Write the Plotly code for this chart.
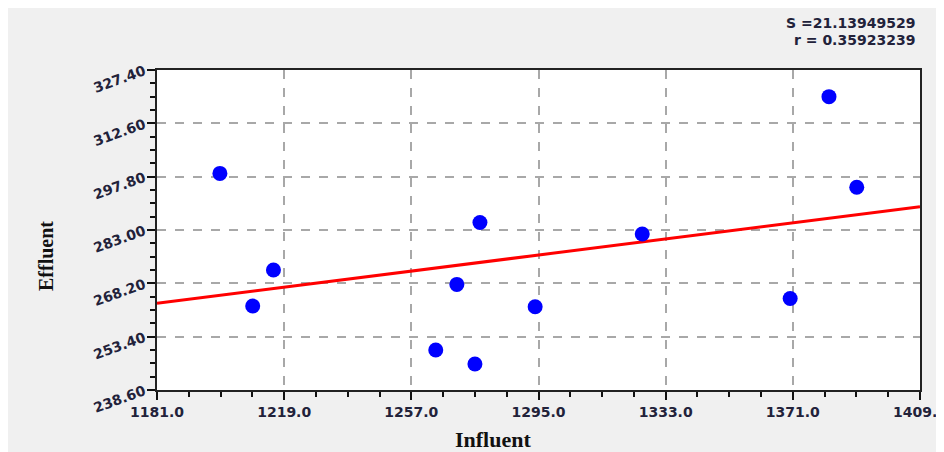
import plotly.graph_objects as go

# Data
influent = [1199.8, 1209.6, 1215.8, 1264.3, 1270.6, 1276.0, 1277.5, 1294.0, 1326.0, 1370.2, 1381.8, 1390.1]
effluent = [298.7, 261.9, 271.9, 249.7, 267.9, 245.8, 285.1, 261.7, 281.9, 264.0, 320.0, 294.85]

fit_x = [1181.0, 1409.0]
fit_y = [262.66, 289.46]

x_ticks = [1181.0, 1219.0, 1257.0, 1295.0, 1333.0, 1371.0, 1409.0]
x_ticktext = ["1181.0", "1219.0", "1257.0", "1295.0", "1333.0", "1371.0", "1409.0"]
y_ticks = [238.6, 253.4, 268.2, 283.0, 297.8, 312.6, 327.4]
y_ticktext = ["238.60", "253.40", "268.20", "283.00", "297.80", "312.60", "327.40"]

stat_lines = ["S =21.13949529", "r = 0.35923239"]

# page is 944x452; the html body adds an 8px margin at top/left
OFF = 8
W, H = 944 - OFF, 452 - OFF
L, R, T, B = 157 - OFF, 24, 70 - OFF, 62
pw, ph = W - L - R, H - T - B

def px(xpage):
    return (xpage - OFF - L) / pw

def py(ypage):
    return (H - B - (ypage - OFF)) / ph

fig = go.Figure()
fig.add_trace(go.Scatter(x=fit_x, y=fit_y, mode="lines",
                         line=dict(color="#ff0000", width=3), hoverinfo="skip",
                         showlegend=False))
fig.add_trace(go.Scatter(x=influent, y=effluent, mode="markers",
                         marker=dict(color="#0000ff", size=15, line=dict(width=0)),
                         showlegend=False))

tickfont = dict(family="DejaVu Sans", size=14, color="#22223a", weight="bold")

fig.update_xaxes(range=[1181, 1409], tickmode="array", tickvals=x_ticks, ticktext=x_ticktext,
                 showgrid=True, gridcolor="#a8a8a8", griddash="dash", gridwidth=1.5,
                 showline=True, linecolor="#222", linewidth=2, mirror=True,
                 ticks="outside", ticklen=8, tickwidth=2, tickcolor="#111",
                 tickfont=tickfont, zeroline=False, ticklabeloverflow="allow", automargin=False,
                 minor=dict(tickmode="linear", tick0=1181, dtick=9.5, ticks="outside",
                            ticklen=5, tickwidth=2, tickcolor="#111", showgrid=False))
fig.update_yaxes(range=[238.6, 327.4], tickmode="array", tickvals=y_ticks, ticktext=y_ticktext,
                 showgrid=True, gridcolor="#a8a8a8", griddash="dash", gridwidth=1.5,
                 showline=True, linecolor="#222", linewidth=2, mirror=True,
                 ticks="outside", ticklen=8, tickwidth=2, tickcolor="#111",
                 tickfont=tickfont, tickangle=-20, zeroline=False, ticklabeloverflow="allow",
                 automargin=False,
                 minor=dict(tickmode="linear", tick0=238.6, dtick=3.7, ticks="outside",
                            ticklen=5, tickwidth=2, tickcolor="#111", showgrid=False))

statfont = dict(family="DejaVu Sans", size=14, color="#22223a", weight="bold")
for text, ypage in zip(stat_lines, [23, 40]):
    fig.add_annotation(text=text, xref="paper", yref="paper", x=px(917), y=py(ypage),
                       xanchor="right", yanchor="middle", showarrow=False, font=statfont)

fig.add_annotation(text="<b>Influent</b>", xref="paper", yref="paper", x=px(493), y=py(439),
                   xanchor="center", yanchor="middle", showarrow=False,
                   font=dict(family="Liberation Serif, Times New Roman, serif", size=22, color="#111"))
fig.add_annotation(text="<b>Effluent</b>", xref="paper", yref="paper", x=px(46), y=py(256),
                   xanchor="center", yanchor="middle", showarrow=False, textangle=-90,
                   font=dict(family="Liberation Serif, Times New Roman, serif", size=20, color="#111"))

fig.update_layout(width=W, height=H, margin=dict(l=L, r=R, t=T, b=B, autoexpand=False),
                  paper_bgcolor="#f0f0f0", plot_bgcolor="#ffffff", showlegend=False)

fig.write_html("out.html")
